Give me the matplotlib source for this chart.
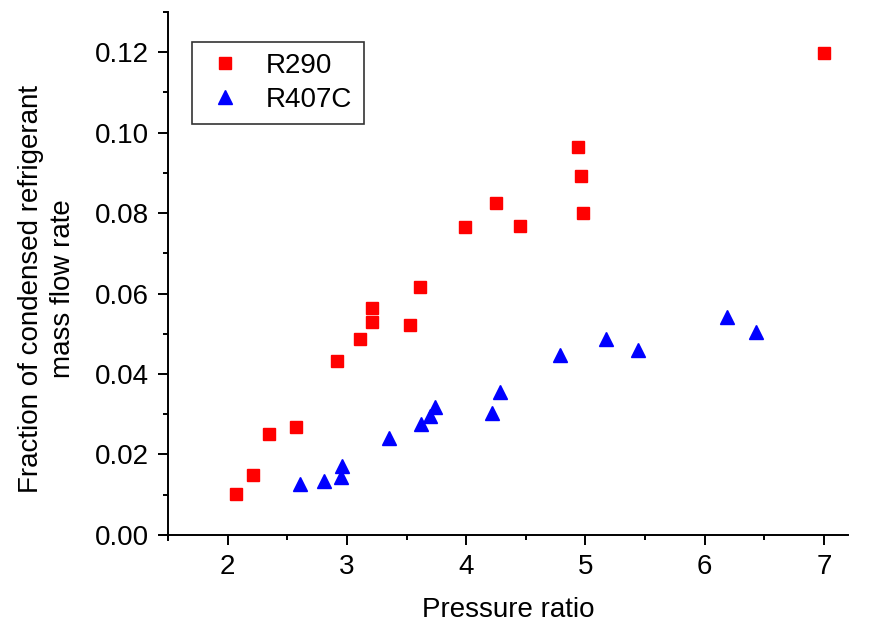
import matplotlib.pyplot as plt
from matplotlib.ticker import MultipleLocator

plt.rcParams['font.family'] = ['Liberation Sans', 'DejaVu Sans']

# R290 data
r290_x = [2.07, 2.21, 2.35, 2.57, 2.92, 3.11, 3.21, 3.21, 3.53, 3.61,
          3.99, 4.25, 4.45, 4.94, 4.96, 4.98, 7.00]
r290_y = [0.0101, 0.0150, 0.0250, 0.0267, 0.0432, 0.0487, 0.0563, 0.0530, 0.0521, 0.0617,
          0.0765, 0.0825, 0.0769, 0.0965, 0.0893, 0.0801, 0.1198]

# R407C data
r407c_x = [2.61, 2.81, 2.95, 2.96, 3.35, 3.62, 3.70, 3.74, 4.22, 4.28,
           4.79, 5.17, 5.44, 6.19, 6.43]
r407c_y = [0.0127, 0.0135, 0.0143, 0.0171, 0.0240, 0.0275, 0.0296, 0.0318, 0.0302, 0.0355,
           0.0446, 0.0488, 0.0459, 0.0541, 0.0504]

fig = plt.figure(figsize=(8.75, 6.3), dpi=100)
ax = fig.add_axes([0.192, 0.151, 0.777, 0.830])

ax.plot(r290_x, r290_y, 's', color='#ff0000', markersize=8, label='R290', linestyle='none')
ax.plot(r407c_x, r407c_y, '^', color='#0000ff', markersize=10, label='R407C', linestyle='none')

ax.set_xlim(1.5, 7.2)
ax.set_ylim(0, 0.13)
ax.xaxis.set_major_locator(MultipleLocator(1))
ax.xaxis.set_minor_locator(MultipleLocator(0.5))
ax.yaxis.set_major_locator(MultipleLocator(0.02))
ax.yaxis.set_minor_locator(MultipleLocator(0.01))
ax.yaxis.set_major_formatter(plt.FormatStrFormatter('%.2f'))

ax.spines['top'].set_visible(False)
ax.spines['right'].set_visible(False)
# origin-style axes: lines run a little past the corner
ax.spines['bottom'].set_bounds(1.43, 7.2)
ax.spines['left'].set_bounds(-0.0013, 0.13)
for s in ['left', 'bottom']:
    ax.spines[s].set_linewidth(1.4)

ax.tick_params(which='major', direction='out', length=7, width=1.4, labelsize=20, pad=7)
ax.tick_params(which='minor', direction='out', length=3.5, width=1.4)

ax.set_xlabel('Pressure ratio', fontsize=20, labelpad=12)
ax.set_ylabel('Fraction of condensed refrigerant\nmass flow rate', fontsize=20,
              linespacing=1.3)
ax.yaxis.set_label_coords(-0.135, 0.47)

leg = ax.legend(loc='upper left', bbox_to_anchor=(0.035, 0.943), borderaxespad=0,
                fontsize=20, frameon=True, fancybox=False, edgecolor='black',
                borderpad=0.4, handletextpad=0.68, labelspacing=0.3, handlelength=1.6)
leg.get_frame().set_linewidth(1.2)

plt.savefig('out.png', dpi=100)
